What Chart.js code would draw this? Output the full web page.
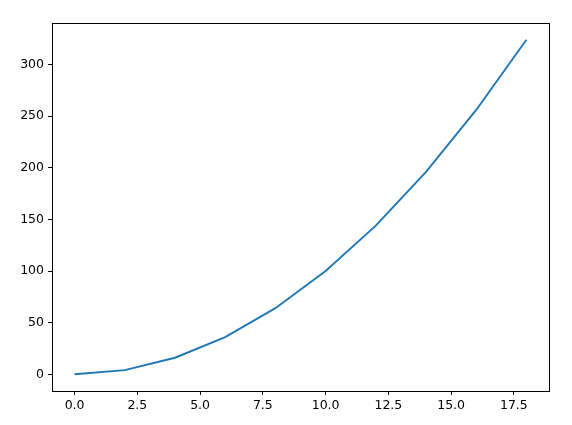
<!DOCTYPE html>
<html>
<head>
<meta charset="utf-8">
<script src="https://cdn.jsdelivr.net/npm/chart.js@4"></script>
<style>
    html, body { margin: 0; padding: 0; background: #fff; }
    #wrap { width: 572px; height: 425px; }
</style>
</head>
<body>
<div id="wrap"><canvas id="lineChart" width="572" height="425"></canvas></div>
<script>
// Values
const xValues = [0, 2, 4, 6, 8, 10, 12, 14, 16, 18];
const yValues = [0, 4, 16, 36, 64, 100, 144, 196, 256, 324];
const xTicks = [0, 2.5, 5, 7.5, 10, 12.5, 15, 17.5];
const yTicks = [0, 50, 100, 150, 200, 250, 300];

const points = xValues.map(function(x, i) {
    return { x: x, y: yValues[i] };
});

// draws the top and right spines as a full box
const frameBox = {
    id: 'frameBox',
    afterDraw: function(chart) {
        const a = chart.chartArea;
        const ctx = chart.ctx;
        ctx.save();
        ctx.strokeStyle = '#000';
        ctx.lineWidth = 1;
        ctx.strokeRect(Math.round(a.left) + 0.5, Math.round(a.top) + 0.5,
            Math.round(a.right - a.left), Math.round(a.bottom - a.top));
        ctx.restore();
    }
};

const tickFont = { family: 'DejaVu Sans', size: 12.5 };

new Chart(document.getElementById('lineChart').getContext('2d'), {
    type: 'scatter',
    data: {
        datasets: [{
            data: points,
            showLine: true,
            borderColor: '#1f77b4',
            borderWidth: 1.9,
            pointRadius: 0,
            tension: 0,
            fill: false
        }]
    },
    options: {
        responsive: false,
        animation: false,
        layout: { padding: { top: 23, right: 23, left: 0, bottom: 0 } },
        plugins: {
            legend: { display: false },
            tooltip: { enabled: false }
        },
        scales: {
            x: {
                type: 'linear',
                min: -0.9,
                max: 18.9,
                afterFit: function(scale) { scale.height = 34; },
                afterBuildTicks: function(scale) {
                    scale.ticks = xTicks.map(function(v) { return { value: v }; });
                },
                grid: { drawOnChartArea: false, drawTicks: true, tickLength: 4, tickColor: '#000' },
                border: { display: true, color: '#000', width: 1 },
                ticks: {
                    color: '#000',
                    font: tickFont,
                    padding: 3,
                    maxRotation: 0,
                    callback: function(v) { return Number(v).toFixed(1); }
                }
            },
            y: {
                type: 'linear',
                min: -16.2,
                max: 340.2,
                afterFit: function(scale) { scale.width = 52; },
                afterBuildTicks: function(scale) {
                    scale.ticks = yTicks.map(function(v) { return { value: v }; });
                },
                grid: { drawOnChartArea: false, drawTicks: true, tickLength: 4, tickColor: '#000' },
                border: { display: true, color: '#000', width: 1 },
                ticks: {
                    color: '#000',
                    font: tickFont,
                    padding: 4,
                    callback: function(v) { return String(v); }
                }
            }
        }
    },
    plugins: [frameBox]
});
</script>
</body>
</html>
